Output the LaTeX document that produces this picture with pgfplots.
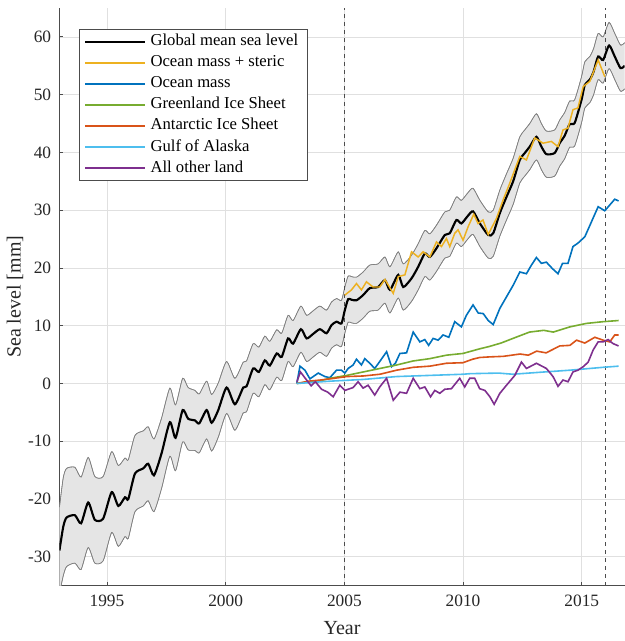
\documentclass[border=0pt]{standalone}
\usepackage{pgfplots}
\pgfplotsset{compat=1.18}
\usepackage{pgfplotstable}
\usepgfplotslibrary{fillbetween}
\usepackage{fontspec}
\setmainfont{Liberation Serif}
\definecolor{cyel}{rgb}{0.929,0.694,0.125}
\definecolor{cblu}{rgb}{0,0.447,0.741}
\definecolor{cgrn}{rgb}{0.466,0.674,0.188}
\definecolor{cred}{rgb}{0.85,0.325,0.098}
\definecolor{ccya}{rgb}{0.301,0.745,0.933}
\definecolor{cpur}{rgb}{0.494,0.184,0.556}
\definecolor{axgray}{rgb}{0.3,0.3,0.3}
\definecolor{txgray}{rgb}{0.15,0.15,0.15}

\pgfplotstableread{
year mean upper lower
1993.00 -28.9 -21.4 -36.4
1993.16 -24.8 -16.3 -33.3
1993.30 -23.2 -14.7 -31.7
1993.65 -22.8 -14.5 -31.1
1993.91 -24.2 -16.2 -32.2
1994.21 -20.6 -12.8 -28.4
1994.49 -23.6 -16.1 -31.1
1994.84 -23.4 -16.1 -30.7
1995.20 -18.8 -11.8 -25.8
1995.48 -21.2 -14.2 -28.2
1995.76 -19.7 -12.9 -26.5
1995.90 -20.0 -13.2 -26.8
1996.18 -15.6 -9.0 -22.2
1996.53 -14.7 -8.2 -21.2
1996.74 -13.9 -7.5 -20.3
1996.98 -15.9 -9.6 -22.2
1997.30 -12.1 -6.0 -18.2
1997.65 -6.7 -0.8 -12.6
1997.89 -9.4 -3.7 -15.1
1998.19 -4.6 0.9 -10.1
1998.42 -6.1 -0.7 -11.5
1998.71 -6.4 -1.2 -11.6
1998.89 -6.9 -1.8 -12.0
1999.20 -4.6 0.4 -9.6
1999.41 -6.8 -1.9 -11.7
1999.69 -4.6 0.1 -9.3
2000.04 -0.7 3.8 -5.2
2000.39 -3.6 0.9 -8.1
2000.74 -0.7 3.7 -5.1
2000.88 -0.5 3.9 -4.9
2001.16 2.6 6.9 -1.7
2001.40 2.0 6.3 -2.3
2001.65 4.0 8.2 -0.2
2001.86 3.1 7.3 -1.1
2002.15 5.2 9.3 1.1
2002.36 4.6 8.7 0.5
2002.63 7.8 11.8 3.8
2002.84 6.9 10.9 2.9
2003.17 9.4 13.4 5.4
2003.41 7.8 11.8 3.8
2003.69 8.6 12.6 4.6
2003.97 9.4 13.4 5.4
2004.25 8.7 12.7 4.7
2004.46 10.1 14.1 6.1
2004.67 10.7 14.7 6.7
2004.88 10.4 14.4 6.4
2005.02 12.7 16.7 8.7
2005.16 14.6 18.6 10.6
2005.30 14.5 18.5 10.5
2005.51 14.4 18.4 10.4
2005.79 15.3 19.3 11.3
2006.07 16.5 20.5 12.5
2006.42 16.7 20.7 12.7
2006.71 17.9 21.9 13.9
2006.92 16.2 20.2 12.2
2007.27 18.8 22.8 14.8
2007.48 16.7 20.7 12.7
2007.83 18.2 22.2 14.2
2008.11 20.2 24.2 16.2
2008.39 22.5 26.5 18.5
2008.60 21.9 25.9 17.9
2008.88 23.4 27.4 19.4
2009.23 25.7 29.7 21.7
2009.44 26.0 30.0 22.0
2009.72 28.3 32.3 24.3
2009.93 27.7 31.7 23.7
2010.20 29.0 33.0 25.0
2010.42 29.8 33.8 25.8
2010.71 27.7 31.7 23.7
2011.06 25.7 29.7 21.7
2011.27 26.0 30.0 22.0
2011.55 29.5 33.5 25.5
2011.83 32.3 36.3 28.3
2012.11 35.0 39.0 31.0
2012.39 38.7 42.7 34.7
2012.60 39.9 43.9 35.9
2012.81 41.0 45.0 37.0
2013.09 42.7 46.7 38.7
2013.30 41.0 45.0 37.0
2013.51 39.7 43.7 35.7
2013.86 39.9 43.9 35.9
2014.07 41.6 45.6 37.6
2014.28 42.9 46.9 38.9
2014.49 44.9 48.9 40.9
2014.70 45.1 49.1 41.1
2014.99 49.1 53.1 45.1
2015.13 51.7 55.7 47.7
2015.34 52.6 56.6 48.6
2015.50 54.0 58.0 50.0
2015.69 56.6 60.6 52.6
2015.90 56.0 60.0 52.0
2016.15 58.5 62.5 54.5
2016.39 56.6 60.6 52.6
2016.63 54.6 58.6 50.6
2016.81 55.0 59.0 51.0
}\gmsl

\pgfplotstableread{
year val
2005.02 15.3
2005.30 16.2
2005.51 17.3
2005.72 16.2
2005.93 17.6
2006.21 16.7
2006.49 16.7
2006.71 18.0
2007.06 15.6
2007.27 18.5
2007.55 18.8
2007.83 22.8
2008.11 21.9
2008.32 22.8
2008.60 21.9
2008.88 24.5
2009.09 23.7
2009.30 25.1
2009.44 23.7
2009.65 26.0
2009.79 26.6
2010.00 24.8
2010.21 27.1
2010.45 29.3
2010.63 27.7
2010.84 28.3
2011.06 25.8
2011.41 28.6
2011.69 31.8
2011.97 34.7
2012.39 39.3
2012.67 38.7
2013.02 42.5
2013.37 41.6
2013.72 41.9
2014.00 41.0
2014.21 43.9
2014.42 44.2
2014.63 47.4
2014.84 47.7
2015.06 51.4
2015.34 52.3
2015.69 56.0
2015.97 53.1
}\steric

\pgfplotstableread{
year val
2003.00 0.0
2003.13 3.0
2003.34 2.3
2003.55 0.8
2003.76 1.4
2003.90 1.8
2004.18 1.2
2004.39 1.0
2004.67 2.3
2004.88 2.3
2005.02 1.8
2005.16 2.6
2005.37 3.2
2005.51 4.2
2005.72 3.2
2005.86 4.3
2006.07 3.5
2006.28 2.6
2006.49 3.8
2006.78 5.5
2006.99 2.9
2007.15 3.5
2007.34 5.2
2007.62 5.3
2007.90 8.9
2008.18 7.2
2008.39 7.6
2008.55 6.6
2008.74 7.8
2008.95 7.5
2009.16 8.4
2009.40 8.0
2009.65 10.7
2009.93 9.8
2010.14 11.8
2010.42 13.6
2010.64 12.2
2010.85 12.1
2011.06 10.9
2011.27 10.2
2011.55 13.0
2011.83 15.0
2012.11 17.0
2012.39 19.3
2012.67 19.0
2012.88 20.5
2013.09 21.8
2013.30 20.8
2013.51 21.0
2013.76 19.9
2014.00 19.0
2014.19 20.8
2014.42 20.8
2014.63 23.7
2014.84 24.3
2015.13 25.4
2015.41 28.0
2015.69 30.6
2015.97 29.9
2016.18 30.9
2016.39 31.9
2016.55 31.6
}\omass

\pgfplotstableread{
year val
2003.0 0.0
2003.5 0.3
2004.0 0.5
2004.4 0.9
2005.1 1.4
2005.8 2.0
2006.5 2.6
2007.2 3.2
2007.9 3.9
2008.6 4.3
2009.3 4.9
2010.0 5.2
2010.7 6.0
2011.1 6.4
2011.6 7.0
2012.1 7.8
2012.8 8.9
2013.4 9.2
2013.8 8.9
2014.5 9.8
2015.2 10.4
2015.9 10.7
2016.55 10.9
}\green

\pgfplotstableread{
year val
2003.0 0.0
2003.5 0.4
2004.0 0.6
2004.4 0.8
2005.1 1.2
2005.8 1.3
2006.5 1.6
2006.9 2.0
2007.2 2.3
2007.9 2.8
2008.6 3.0
2009.3 3.5
2010.0 3.6
2010.4 4.2
2010.7 4.5
2011.1 4.6
2011.7 4.7
2012.4 5.1
2012.75 4.9
2013.1 5.6
2013.5 5.3
2014.07 6.5
2014.5 6.6
2014.78 7.5
2015.13 7.0
2015.55 8.0
2015.9 7.5
2016.18 7.2
2016.39 8.4
2016.55 8.4
}\antarc

\pgfplotstableread{
year val
2003.0 0.0
2004.4 0.4
2005.8 0.7
2007.2 1.2
2008.6 1.4
2010.0 1.6
2010.3 1.7
2011.5 1.8
2012.1 1.6
2013.1 1.9
2014.5 2.3
2015.9 2.8
2016.55 3.0
}\alaska

\pgfplotstableread{
year val
2003.00 0.3
2003.15 2.0
2003.41 0.6
2003.60 -0.4
2003.78 0.3
2004.04 -1.0
2004.30 -1.5
2004.53 -2.3
2004.81 -0.3
2005.02 -1.2
2005.37 -0.7
2005.58 0.3
2005.79 -0.8
2006.00 -0.3
2006.28 -2.0
2006.49 -0.6
2006.78 0.9
2007.06 -2.9
2007.34 -1.5
2007.62 -1.7
2007.90 0.9
2008.18 -0.9
2008.39 -0.6
2008.63 -2.3
2008.81 -1.2
2009.02 -1.7
2009.23 -1.0
2009.51 -0.9
2009.86 0.9
2010.07 -0.6
2010.28 0.9
2010.49 0.9
2010.70 -0.9
2010.92 -1.2
2011.13 -2.3
2011.31 -3.6
2011.55 -1.7
2011.83 -0.3
2012.18 1.4
2012.46 3.7
2012.67 2.6
2013.09 3.5
2013.51 2.6
2013.79 1.2
2014.00 -0.5
2014.21 0.6
2014.42 0.3
2014.63 2.0
2014.84 2.3
2015.06 2.9
2015.27 3.7
2015.48 5.8
2015.69 7.2
2015.90 7.2
2016.11 7.6
2016.32 6.9
2016.55 6.5
}\other

\begin{document}
\begin{tikzpicture}
\begin{axis}[
  name=ax,
  scale only axis,
  width=424pt, height=433.3pt,
  xmin=1993, xmax=2016.81,
  ymin=-35, ymax=65,
  axis x line*=bottom, axis y line*=left,
  axis line style={axgray, line width=0.9pt},
  xtick={1995,2000,2005,2010,2015},
  xticklabels={1995,2000,2005,2010,2015},
  ytick={-30,-20,-10,0,10,20,30,40,50,60},
  yticklabels={-30,-20,-10,0,10,20,30,40,50,60},
  tick align=inside,
  major tick length=3pt,
  tick style={axgray, line width=0.6pt},
  ticklabel style={font=\fontsize{13}{15}\selectfont, text=txgray},
  yticklabel style={xshift=-2.7pt},
  xticklabel style={yshift=-3.3pt},
  grid=major,
  major grid style={line width=0.5pt, color=black!12},
  xlabel={Year},
  ylabel={Sea level [mm]},
  label style={font=\fontsize{15}{18}\selectfont, text=txgray},
  xlabel style={at={(axis description cs:0.5,-0.0732)}, anchor=center},
  ylabel style={at={(axis description cs:-0.0787,0.5)}, anchor=center},
  legend style={at={(axis description cs:0.034,0.964)}, anchor=north west,
    draw=axgray, line width=0.6pt, fill=white,
    font=\fontsize{12.5}{15}\selectfont, text=black,
    inner xsep=4pt, inner ysep=1.5pt, row sep=0pt,
    nodes={text height=9pt, text depth=3pt, inner ysep=1.9pt, inner xsep=3pt}},
  legend cell align=left,
  legend image code/.code={\draw[#1] (0pt,0pt) -- (45pt,0pt);},
]
\addplot[name path=U, draw=black!50, line width=0.45pt, smooth, tension=0.4, forget plot] table[x=year, y=upper] {\gmsl};
\addplot[name path=L, draw=black!50, line width=0.45pt, smooth, tension=0.4, forget plot] table[x=year, y=lower] {\gmsl};
\addplot[fill=black!10, draw=none, forget plot] fill between[of=U and L];
\addplot[draw=black!50, line width=0.45pt, smooth, tension=0.4, forget plot] table[x=year, y=upper] {\gmsl};
\addplot[draw=black!50, line width=0.45pt, smooth, tension=0.4, forget plot] table[x=year, y=lower] {\gmsl};
\addplot[dashed, black!70, line width=0.6pt, forget plot] coordinates {(2005,-35) (2005,65)};
\addplot[dashed, black!70, line width=0.6pt, forget plot] coordinates {(2016,-35) (2016,65)};

\addplot[black, line width=1.6pt, smooth, tension=0.4] table[x=year, y=mean] {\gmsl};
\addlegendentry{Global mean sea level}
\addplot[cyel, line width=1.1pt] table[x=year, y=val] {\steric};
\addlegendentry{Ocean mass + steric}
\addplot[cblu, line width=1.2pt] table[x=year, y=val] {\omass};
\addlegendentry{Ocean mass}
\addplot[cgrn, line width=1.2pt] table[x=year, y=val] {\green};
\addlegendentry{Greenland Ice Sheet}
\addplot[cred, line width=1.2pt] table[x=year, y=val] {\antarc};
\addlegendentry{Antarctic Ice Sheet}
\addplot[ccya, line width=1.2pt] table[x=year, y=val] {\alaska};
\addlegendentry{Gulf of Alaska}
\addplot[cpur, line width=1.2pt] table[x=year, y=val] {\other};
\addlegendentry{All other land}
\end{axis}
\pgfresetboundingbox
\path ([shift={(-44.6pt,-41.5pt)}]ax.south west) rectangle ([shift={(0pt,6pt)}]ax.north east);
\end{tikzpicture}
\end{document}
